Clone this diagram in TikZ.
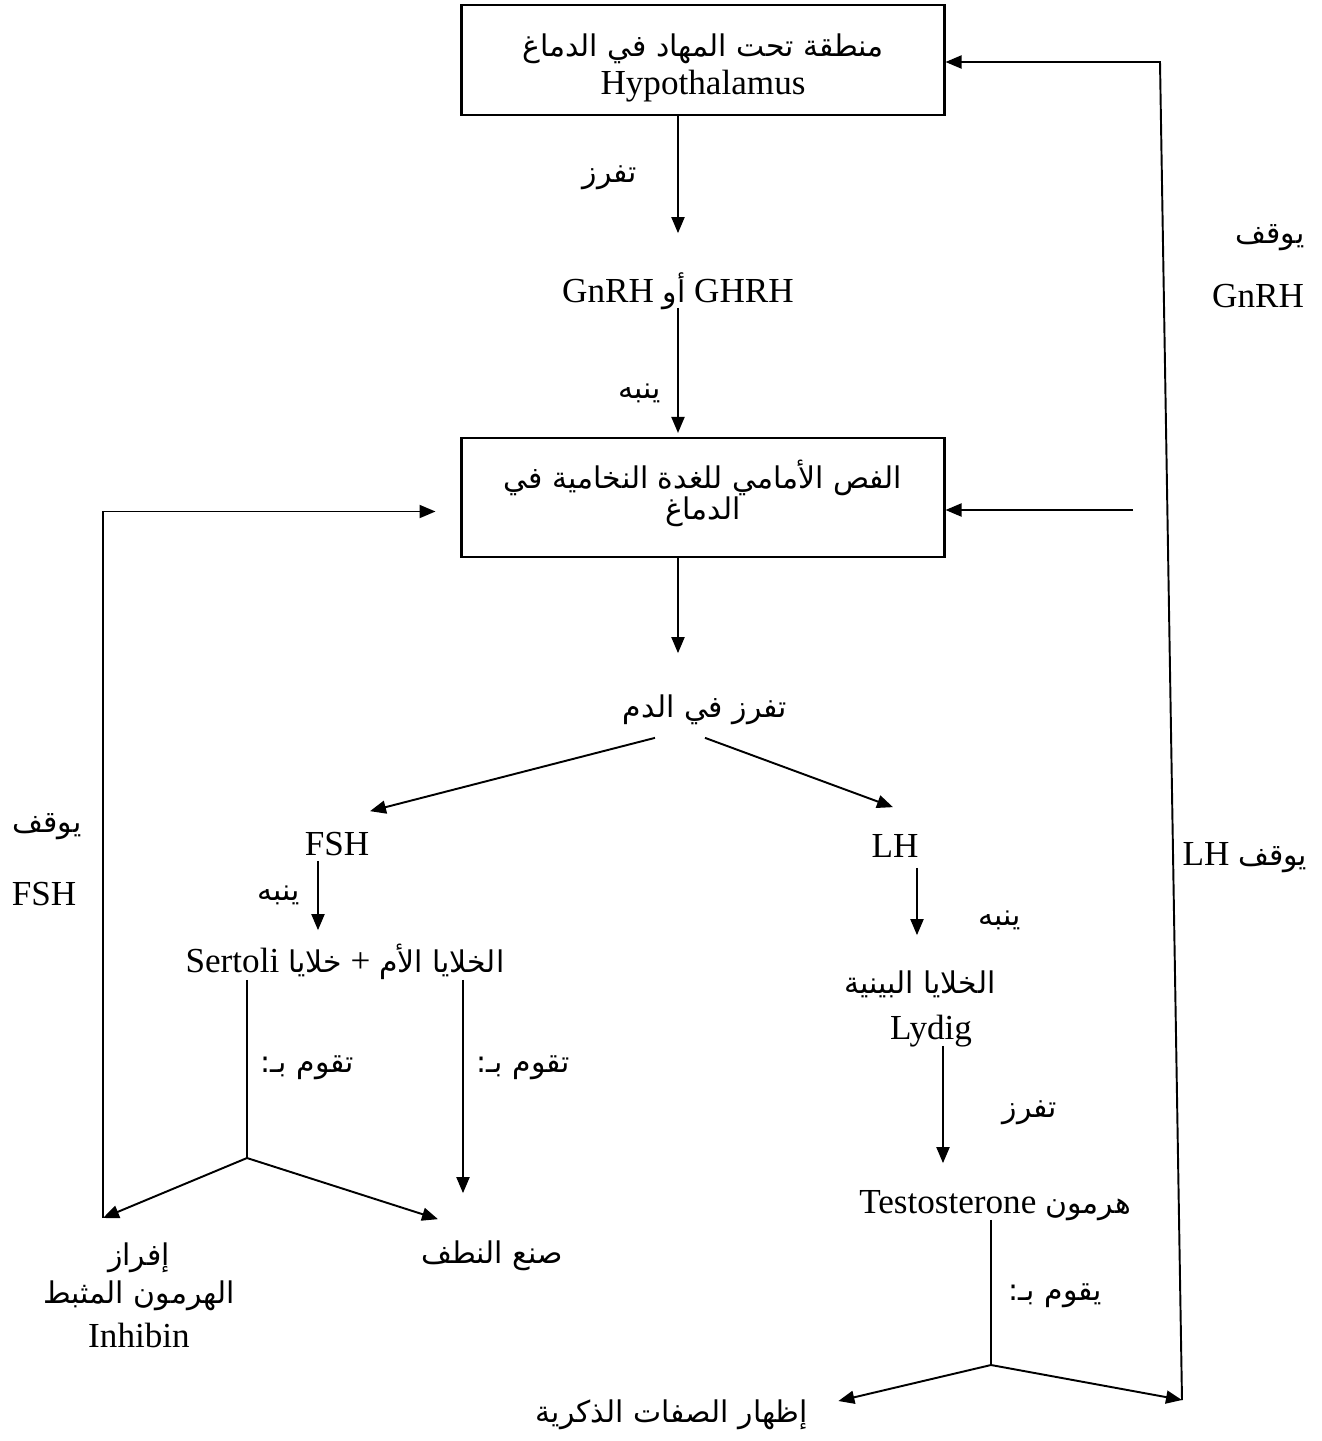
\documentclass[tikz,border=0pt]{standalone}
\usepackage{fontspec}
\setmainfont{Liberation Serif}
\newfontfamily\arabicfont[Script=Arabic,Scale=0.85]{DejaVu Sans}
\TeXXeTstate=1
\usetikzlibrary{arrows.meta, calc}

\newcommand{\arb}[1]{{\arabicfont\beginR #1\endR}}

\tikzset{
  box/.style={draw, line width=1.2pt, minimum width=9.66cm, minimum height=2.2cm},
  lbl/.style={inner sep=0pt, text height=0.42cm, text depth=0.12cm},
  arr/.style={line width=1.1pt, -{Triangle[length=0.32cm, width=0.26cm]}},
  ln/.style={line width=1.1pt},
}

\begin{document}
\begin{tikzpicture}[x=0.02cm, y=-0.02cm, font=\fontsize{20}{24}\selectfont]
    \useasboundingbox (0,0) rectangle (1322,1441);

    % Boxes
    \node[box] (hypo) at (703,60) {};
    \node[lbl] (hypoAr) at (703,49) {\arb{منطقة تحت المهاد في الدماغ}};
    \node[lbl] (hypoEn) at (703,87) {Hypothalamus};
    \node[box, minimum height=2.38cm] (pit) at (703,497.5) {};
    \node[lbl] (pitA) at (703,481) {\arb{الفص الأمامي للغدة النخامية في}};
    \node[lbl] (pitB) at (703,512) {\arb{الدماغ}};

    % Hormones and targets
    \node[lbl] (gnrh) at (678,295) {GnRH \arb{أو} GHRH};
    \node[lbl] (blood) at (705,710) {\arb{تفرز في الدم}};
    \node[lbl] (fsh) at (337,848) {FSH};
    \node[lbl] (lh) at (895,850) {LH};
    \node[lbl] (sert) at (345,965) {Sertoli \arb{خلايا} + \arb{الخلايا الأم}};
    \node[lbl] (leyd) at (920,986) {\arb{الخلايا البينية}};
    \node[lbl] (leydig) at (931,1032) {Lydig};
    \node[lbl] (testo) at (995,1206) {Testosterone \arb{هرمون}};
    \node[lbl] (sperm) at (492,1256) {\arb{صنع النطف}};
    \node[lbl] (inhibA) at (139,1258) {\arb{إفراز}};
    \node[lbl] (inhibB) at (139,1296) {\arb{الهرمون المثبط}};
    \node[lbl] (inhibC) at (139,1340) {Inhibin};
    \node[lbl] (male) at (672,1415) {\arb{إظهار الصفات الذكرية}};

    % Arrow labels
    \node[lbl] (secrA) at (610,175) {\arb{تفرز}};
    \node[lbl] (stimA) at (640,391) {\arb{ينبه}};
    \node[lbl] (stimB) at (279,893) {\arb{ينبه}};
    \node[lbl] (stimC) at (1000,918) {\arb{ينبه}};
    \node[lbl] (doA) at (307,1065) {\arb{تقوم بـ:}};
    \node[lbl] (doB) at (523,1065) {\arb{تقوم بـ:}};
    \node[lbl] (secrB) at (1030,1110) {\arb{تفرز}};
    \node[lbl] (doC) at (1055,1293) {\arb{يقوم بـ:}};
    \node[lbl] (stopA) at (1270,236) {\arb{يوقف}};
    \node[lbl] (stopAh) at (1258,300) {GnRH};
    \node[lbl] (stopB) at (1245,858) {LH \arb{يوقف}};
    \node[lbl] (stopC) at (47,825) {\arb{يوقف}};
    \node[lbl] (stopCh) at (44,898) {FSH};

    % Junctions and feedback corners
    \coordinate (jL) at (247,1158);
    \coordinate (jR) at (991,1365);
    \coordinate (fbL) at (103,1218);
    \coordinate (fbR) at (1182,1400);
    \coordinate (fbTop) at (1160,62);
    \coordinate (fbMid) at (1133,510);

    % Main chain
    \draw[arr] (hypo.south -| gnrh) -- ($(gnrh.north)+(0,-48)$);
    \draw[arr] ($(gnrh.south)+(0,-1)$) -- ($(gnrh.south |- pit.north)+(0,-4)$);
    \draw[arr] (pit.south -| gnrh) -- ($(blood.north -| gnrh)+(0,-43)$);
    \draw[arr] ($(blood.south)+(-50,14)$) -- ($(fsh.north)+(33,-23)$);
    \draw[arr] ($(blood.south)+(0,14)$) -- ($(lh.north)+(-2,-29)$);

    % FSH side
    \draw[arr] ($(fsh.south)+(-19,-1)$) -- ($(sert.north)+(-27,-21)$);
    \draw[ln] ($(sert.south)+(-98,1)$) -- (jL);
    \draw[arr] (jL) -- (fbL);
    \draw[arr] (jL) -- ($(sperm.north)+(-54,-23)$);
    \draw[arr] ($(sert.south)+(118,1)$) -- ($(sperm.north)+(-29,-49)$);

    % LH side
    \draw[arr] ($(lh.south)+(22,4)$) -- ($(leyd.north)+(-3,-37)$);
    \draw[arr] ($(leydig.south)+(12,0)$) -- ($(testo.north)+(-52,-29)$);
    \draw[ln] (testo.south -| jR) -- (jR);
    \draw[arr] (jR) -- ($(male.east)+(30,-14)$);
    \draw[arr] (jR) -- (fbR);

    % Feedback
    \draw[arr] (fbL) |- ($(pit.west)+(-25,14)$);
    \draw[arr] (fbR) -- (fbTop) -- (hypo.east |- fbTop);
    \draw[arr] (fbMid) -- (pit.east |- fbMid);
\end{tikzpicture}
\end{document}
